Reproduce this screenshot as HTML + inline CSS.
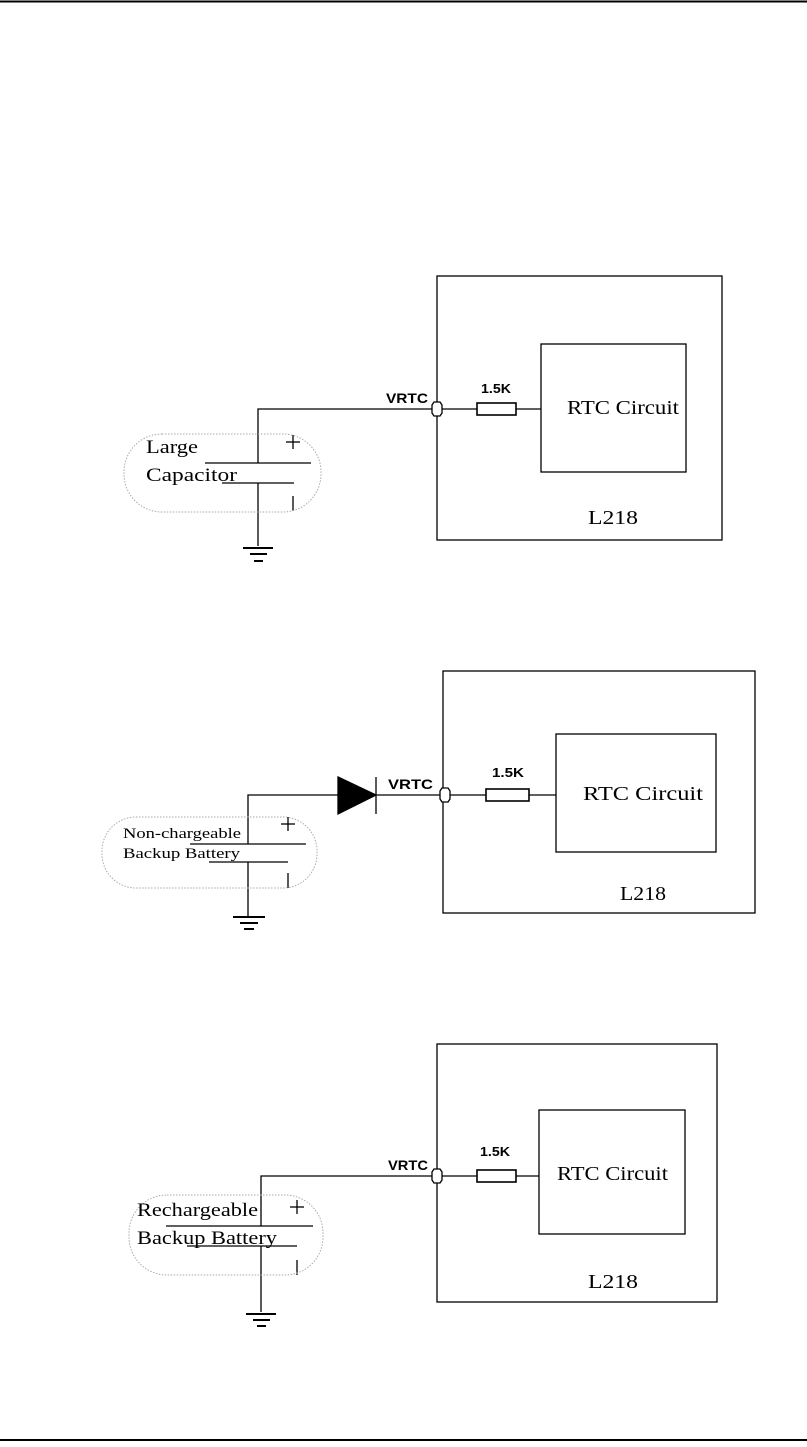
<!DOCTYPE html>
<html><head><meta charset="utf-8"><style>
html,body{margin:0;padding:0;background:#fff;}
svg{display:block;}
.s{font-family:"Liberation Serif","Noto Serif CJK SC",serif;}
.a{font-family:"Liberation Sans",sans-serif;font-weight:bold;}
</style></head><body>
<svg width="807" height="1447" viewBox="0 0 807 1447" xmlns="http://www.w3.org/2000/svg" stroke="#000" fill="none" stroke-width="1.3">
<line x1="0" y1="1.5" x2="807" y2="1.5" stroke-width="2"/>
<line x1="0" y1="1440" x2="807" y2="1440" stroke-width="2"/>

<!-- Diagram 1 -->
<rect x="437" y="276" width="285" height="264"/>
<rect x="541" y="344" width="145" height="128"/>
<rect x="477" y="403" width="39" height="12" stroke-width="1.6"/>
<line x1="442" y1="409" x2="477" y2="409"/><line x1="516" y1="409" x2="541" y2="409"/>
<path d="M432 405 L434 402 L440 402 L442 405 L442 413 L440 416 L434 416 L432 413 Z" fill="#fff"/>
<polyline points="432,409 258,409 258,463"/>
<line x1="258" y1="483" x2="258" y2="546"/>
<line x1="205" y1="463" x2="311" y2="463"/>
<line x1="222" y1="483" x2="294" y2="483"/>
<line x1="286" y1="442" x2="300" y2="442"/><line x1="293" y1="435" x2="293" y2="449"/>
<line x1="293" y1="496" x2="293" y2="511"/>
<rect x="124" y="434" width="197" height="78" rx="38" stroke="#aaa" stroke-width="1" stroke-dasharray="1.5,1.5"/>
<line x1="243" y1="548" x2="273" y2="548" stroke-width="2"/><line x1="250" y1="554" x2="267" y2="554" stroke-width="2"/><line x1="254" y1="561" x2="263" y2="561" stroke-width="2"/>
<g fill="#000" stroke="none">
<text x="386" y="403" class="a" font-size="14" textLength="42" lengthAdjust="spacingAndGlyphs">VRTC</text>
<text x="481" y="393" class="a" font-size="13" textLength="30" lengthAdjust="spacingAndGlyphs">1.5K</text>
<text x="567" y="414" class="s" font-size="20" textLength="112" lengthAdjust="spacingAndGlyphs">RTC Circuit</text>
<text x="588" y="524" class="s" font-size="20" textLength="50" lengthAdjust="spacingAndGlyphs">L218</text>
<text x="146" y="453" class="s" font-size="19" textLength="52" lengthAdjust="spacingAndGlyphs">Large</text>
<text x="146" y="481" class="s" font-size="19" textLength="91" lengthAdjust="spacingAndGlyphs">Capacitor</text>
</g>

<!-- Diagram 2 -->
<rect x="443" y="671" width="312" height="242"/>
<rect x="556" y="734" width="160" height="118"/>
<rect x="486" y="789" width="43" height="12" stroke-width="1.6"/>
<line x1="450" y1="795" x2="486" y2="795"/><line x1="529" y1="795" x2="556" y2="795"/>
<path d="M440 791 L442 788 L448 788 L450 791 L450 799 L448 802 L442 802 L440 799 Z" fill="#fff"/>
<polygon points="338,777 376,795 338,814" fill="#000"/>
<line x1="376" y1="777" x2="376" y2="814"/>
<line x1="376" y1="795" x2="440" y2="795"/>
<polyline points="338,795 248,795 248,844"/>
<line x1="248" y1="862" x2="248" y2="916"/>
<line x1="190" y1="844" x2="306" y2="844"/>
<line x1="209" y1="862" x2="288" y2="862"/>
<line x1="281" y1="824" x2="295" y2="824"/><line x1="288" y1="817" x2="288" y2="831"/>
<line x1="288" y1="873" x2="288" y2="888"/>
<rect x="102" y="817" width="215" height="71" rx="34" stroke="#aaa" stroke-width="1" stroke-dasharray="1.5,1.5"/>
<line x1="233" y1="917" x2="265" y2="917" stroke-width="2"/><line x1="240" y1="923" x2="258" y2="923" stroke-width="2"/><line x1="244" y1="929" x2="254" y2="929" stroke-width="2"/>
<g fill="#000" stroke="none">
<text x="388" y="789" class="a" font-size="14" textLength="45" lengthAdjust="spacingAndGlyphs">VRTC</text>
<text x="492" y="777" class="a" font-size="13" textLength="32" lengthAdjust="spacingAndGlyphs">1.5K</text>
<text x="583" y="800" class="s" font-size="20" textLength="120" lengthAdjust="spacingAndGlyphs">RTC Circuit</text>
<text x="620" y="900" class="s" font-size="20" textLength="46" lengthAdjust="spacingAndGlyphs">L218</text>
<text x="123" y="838" class="s" font-size="15" textLength="118" lengthAdjust="spacingAndGlyphs">Non-chargeable</text>
<text x="123" y="858" class="s" font-size="15" textLength="117" lengthAdjust="spacingAndGlyphs">Backup Battery</text>
</g>

<!-- Diagram 3 -->
<rect x="437" y="1044" width="280" height="258"/>
<rect x="539" y="1110" width="146" height="124"/>
<rect x="477" y="1170" width="39" height="12" stroke-width="1.6"/>
<line x1="442" y1="1176" x2="477" y2="1176"/><line x1="516" y1="1176" x2="539" y2="1176"/>
<path d="M432 1172 L434 1169 L440 1169 L442 1172 L442 1180 L440 1183 L434 1183 L432 1180 Z" fill="#fff"/>
<polyline points="432,1176 261,1176 261,1226"/>
<line x1="261" y1="1246" x2="261" y2="1312"/>
<line x1="166" y1="1226" x2="313" y2="1226"/>
<line x1="187" y1="1246" x2="297" y2="1246"/>
<line x1="290" y1="1207" x2="304" y2="1207"/><line x1="297" y1="1200" x2="297" y2="1214"/>
<line x1="297" y1="1260" x2="297" y2="1275"/>
<rect x="129" y="1195" width="194" height="80" rx="38" stroke="#aaa" stroke-width="1" stroke-dasharray="1.5,1.5"/>
<line x1="246" y1="1314" x2="276" y2="1314" stroke-width="2"/><line x1="253" y1="1320" x2="270" y2="1320" stroke-width="2"/><line x1="257" y1="1326" x2="266" y2="1326" stroke-width="2"/>
<g fill="#000" stroke="none">
<text x="388" y="1170" class="a" font-size="14" textLength="40" lengthAdjust="spacingAndGlyphs">VRTC</text>
<text x="480" y="1156" class="a" font-size="13" textLength="30" lengthAdjust="spacingAndGlyphs">1.5K</text>
<text x="557" y="1180" class="s" font-size="20" textLength="111" lengthAdjust="spacingAndGlyphs">RTC Circuit</text>
<text x="588" y="1288" class="s" font-size="20" textLength="50" lengthAdjust="spacingAndGlyphs">L218</text>
<text x="137" y="1216" class="s" font-size="19" textLength="121" lengthAdjust="spacingAndGlyphs">Rechargeable</text>
<text x="137" y="1244" class="s" font-size="19" textLength="140" lengthAdjust="spacingAndGlyphs">Backup Battery</text>
</g>
</svg>
</body></html>
